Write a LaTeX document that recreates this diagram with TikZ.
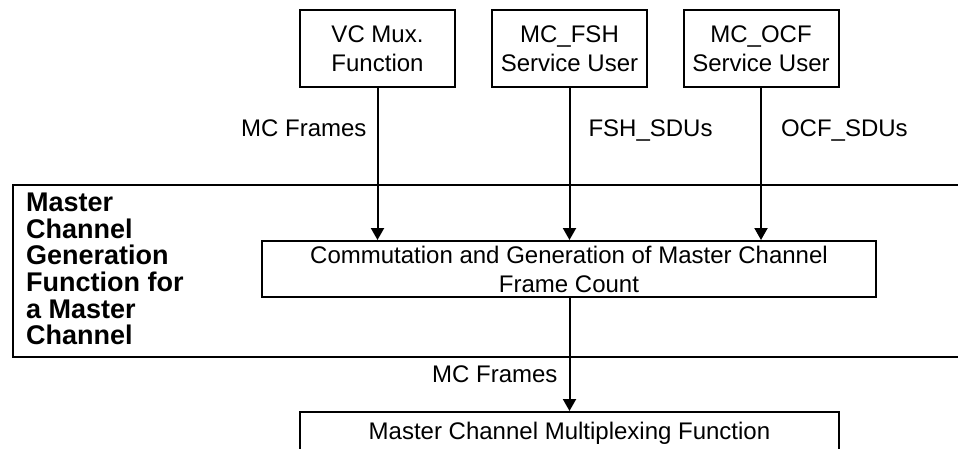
\documentclass[tikz,border=0pt]{standalone}
\usepackage{fontspec}
\setmainfont{Liberation Sans}
\usetikzlibrary{arrows.meta}
\tikzset{
    >={Triangle[length=12pt,width=13pt]},
    unit/.style = {draw, line width=2pt, align=center, inner sep=0pt,
                   font=\fontsize{24}{29}\selectfont},
    flow/.style = {->, line width=2pt},
    tag/.style = {inner sep=0pt, text height=17pt, text depth=0pt,
                  font=\fontsize{24}{29}\selectfont},
}

\begin{document}
\begin{tikzpicture}[x=1pt, y=-1pt]
    \useasboundingbox (0,0) rectangle (958,448);

    % the generation function that holds the commutation box
    \node (gen) [draw, line width=2pt, inner sep=0pt, anchor=north west,
                 minimum width=963pt, minimum height=172pt] at (12,184) {};
    \node (title) [anchor=north west, align=left, inner sep=0pt,
                   font=\fontsize{27}{26.6}\selectfont\bfseries] at (26,193)
        {Master\\Channel\\Generation\\Function for\\a Master\\Channel};

    \node (vcmux)   [unit, minimum width=155pt, minimum height=77pt] at (377.5,48.5) {VC Mux.\\Function};
    \node (fshuser) [unit, minimum width=155pt, minimum height=77pt] at (569.5,48.5) {MC\_FSH\\Service User};
    \node (ocfuser) [unit, minimum width=155pt, minimum height=77pt] at (761,48.5) {MC\_OCF\\Service User};

    \node (commute) [unit, minimum width=614pt, minimum height=56pt] at (569,269)
        {Commutation and Generation of Master Channel\\Frame Count};
    \node (mux) [unit, minimum width=539pt, minimum height=42pt] at (569.5,433)
        {Master Channel Multiplexing Function};

    \draw [flow] (vcmux.south) -- (vcmux.south |- commute.north)
        node [tag, pos=0.26, left=10pt] {MC Frames};
    \draw [flow] (fshuser.south) -- (fshuser.south |- commute.north)
        node [tag, pos=0.26, right=18pt] {FSH\_SDUs};
    \draw [flow] (ocfuser.south) -- (ocfuser.south |- commute.north)
        node [tag, pos=0.26, right=19pt] {OCF\_SDUs};
    \draw [flow] (commute.south -| mux.north) -- (mux.north)
        node [tag, pos=0.67, left=11pt] {MC Frames};
\end{tikzpicture}
\end{document}
